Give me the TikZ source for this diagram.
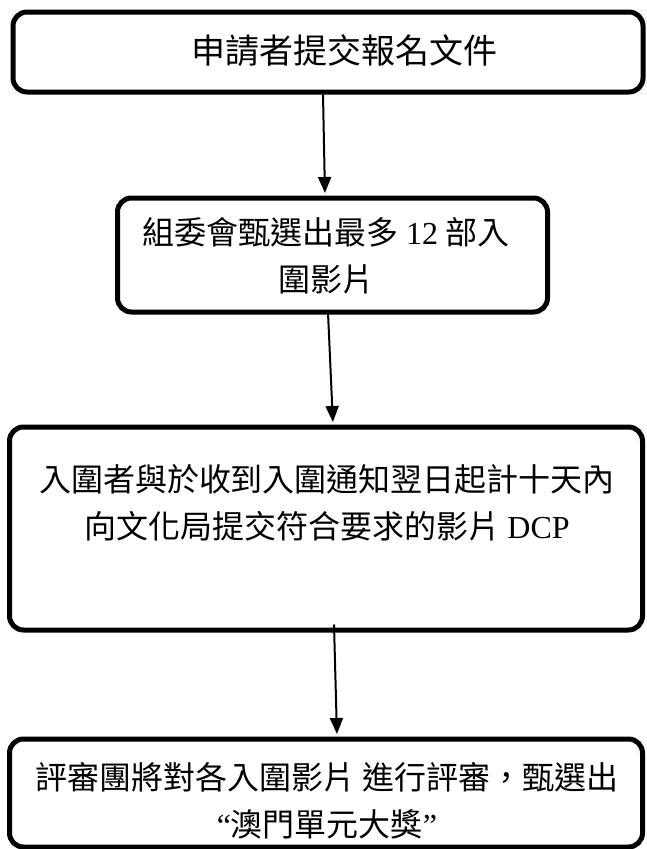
\documentclass[tikz,border=0pt]{standalone}
\usepackage{fontspec}
\setmainfont{Liberation Serif}
\newfontfamily\cjk{Noto Sans CJK TC}
\usetikzlibrary{arrows.meta}
\begin{document}
\begin{tikzpicture}[x=1pt,y=-1pt,
    frame/.style={draw,line width=5pt,rounded corners=14pt,inner sep=0pt},
    txt/.style={align=center,inner sep=0pt,font=\fontsize{32}{47}\selectfont\cjk},
    flow/.style={line width=2pt,shorten >=2.5pt,-{Triangle[length=16pt,width=13pt]}}]
    \useasboundingbox (0,0) rectangle (646,849);
    % Boxes
    \node[frame,minimum width=630pt,minimum height=80pt] (b1) at (328,52) {};
    \node[frame,minimum width=430pt,minimum height=114pt] (b2) at (332.5,255) {};
    \node[frame,minimum width=633pt,minimum height=203pt] (b3) at (326,528.5) {};
    \node[frame,minimum width=633pt,minimum height=108pt] (b4) at (326,793) {};
    % Texts
    \node[txt,font=\fontsize{34}{47}\selectfont\cjk] (t1) at (344,51) {申請者提交報名文件};
    \node[txt] (t2) at (326,256) {組委會甄選出最多 {\rmfamily 12} 部入\\圍影片};
    \node[txt] (t3) at (327,503) {入圍者與於收到入圍通知翌日起計十天內\\向文化局提交符合要求的影片 {\rmfamily DCP}};
    \node[txt] (t4) at (327,801) {評審團將對各入圍影片 進行評審，甄選出\\{\rmfamily “}澳門單元大獎{\rmfamily ”}};
    % Arrows
    \draw[flow] ([xshift=-5pt]b1.south) -- ([xshift=-7.5pt]b2.north);
    \draw[flow] ([xshift=-4.5pt,yshift=2pt]b2.south) -- ([xshift=7pt]b3.north);
    \draw[flow] ([xshift=8pt,yshift=8pt]b3.south) -- ([xshift=11pt]b4.north);
\end{tikzpicture}
\end{document}
